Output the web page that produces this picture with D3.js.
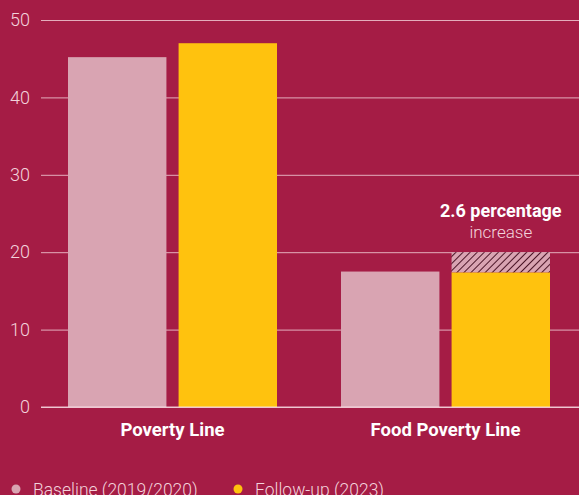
<!DOCTYPE html>
<html>
<head>
<meta charset="utf-8">
<script src="https://cdn.jsdelivr.net/npm/d3@7"></script>
<style>
  html, body { margin: 0; padding: 0; background: #a51c45; }
  svg { display: block; font-family: Roboto, "Noto Sans", sans-serif; }
</style>
</head>
<body>
<svg width="579" height="495"></svg>
<script>
let categories = ["Poverty Line", "Food Poverty Line"];
let seriesNames = ["Baseline (2019/2020)", "Follow-up (2023)"];
let baseline = [45.2, 17.5];
let followUp = [47.0, 20.0];
let increase = [0, 2.6];
let yTicks = [0, 10, 20, 30, 40, 50];
let colors = ["#d9a4b2", "#ffc20e"];

let svg = d3.select("svg");
let margin = { top: 20, right: 0, bottom: 88, left: 41 };
let width = +svg.attr("width") - margin.left - margin.right;
let height = +svg.attr("height") - margin.top - margin.bottom;

let defs = svg.append("defs");
let pat = defs.append("pattern")
    .attr("id", "hatch")
    .attr("patternUnits", "userSpaceOnUse")
    .attr("width", 5).attr("height", 5)
    .attr("patternTransform", "rotate(45)");
pat.append("rect").attr("width", 5).attr("height", 5).attr("fill", "#d9a4b2");
pat.append("line").attr("x1", 0).attr("y1", 0).attr("x2", 0).attr("y2", 5)
    .attr("stroke", "#4a1426").attr("stroke-width", 2);

let g = svg.append("g").attr("transform", `translate(${margin.left},${margin.top})`);

let y = d3.scaleLinear().domain([0, 50]).range([height, 0]);
// groups start at 27 and 300 within the plot, step 273, band 209
let x0 = d3.scaleBand().domain(categories).range([27, 509]).paddingInner(64 / 273).paddingOuter(0);
let x1 = d3.scaleBand().domain([0, 1]).range([0, x0.bandwidth()]).paddingInner(0.11);

// grid + y axis
let yAxis = g.append("g")
    .call(d3.axisLeft(y).tickValues(yTicks).tickSize(-width).tickPadding(11));
yAxis.select(".domain").remove();
yAxis.selectAll(".tick line").attr("stroke", "rgba(255,235,240,0.7)").attr("stroke-width", 1);
yAxis.selectAll(".tick text")
    .attr("fill", "#f3d3dc").attr("font-size", 18).attr("font-weight", 300)
    .attr("font-family", "Roboto, sans-serif");

let groups = g.selectAll(".cat")
    .data(categories)
    .enter().append("g")
    .attr("transform", d => `translate(${x0(d)},0)`);

groups.append("rect")
    .attr("x", x1(0))
    .attr("width", x1.bandwidth())
    .attr("y", (d, i) => y(baseline[i]))
    .attr("height", (d, i) => height - y(baseline[i]))
    .attr("fill", colors[0]);

groups.append("rect")
    .attr("x", x1(1))
    .attr("width", x1.bandwidth())
    .attr("y", (d, i) => y(followUp[i] - increase[i]))
    .attr("height", (d, i) => height - y(followUp[i] - increase[i]))
    .attr("fill", colors[1]);

let withIncrease = groups.filter((d, i) => increase[i] > 0);
withIncrease.append("rect")
    .attr("x", x1(1))
    .attr("width", x1.bandwidth())
    .attr("y", d => y(followUp[categories.indexOf(d)]))
    .attr("height", d => {
        let i = categories.indexOf(d);
        return y(followUp[i] - increase[i]) - y(followUp[i]);
    })
    .attr("fill", "url(#hatch)");

// annotation
let ann = withIncrease.append("text")
    .attr("text-anchor", "middle")
    .attr("fill", "#ffffff");
ann.append("tspan")
    .attr("x", x1(1) + x1.bandwidth() / 2)
    .attr("y", d => y(followUp[categories.indexOf(d)]) - 35)
    .attr("font-weight", 700)
    .attr("font-size", 18)
    .text(d => increase[categories.indexOf(d)] + " percentage");
ann.append("tspan")
    .attr("x", x1(1) + x1.bandwidth() / 2)
    .attr("y", d => y(followUp[categories.indexOf(d)]) - 14)
    .attr("font-weight", 300)
    .attr("font-size", 17)
    .attr("fill", "#f3d3dc")
    .text("increase");

// baseline rule on top of bars
g.append("line")
    .attr("x1", 0).attr("x2", width)
    .attr("y1", y(0)).attr("y2", y(0))
    .attr("stroke", "rgba(255,235,240,0.8)");

// category labels
groups.append("text")
    .attr("x", x0.bandwidth() / 2)
    .attr("y", height + 29)
    .attr("text-anchor", "middle")
    .attr("fill", "#ffffff")
    .attr("font-size", 18.5)
    .attr("font-weight", 700)
    .text(d => d);

// legend
let legend = svg.append("g").attr("transform", "translate(0,489)");
let lx = [16, 238];
seriesNames.forEach((name, i) => {
    legend.append("circle").attr("cx", lx[i]).attr("cy", 0).attr("r", 4.5).attr("fill", colors[i]);
    legend.append("text")
        .attr("x", lx[i] + 17).attr("y", 7)
        .attr("fill", "#f3d3dc")
        .attr("font-size", 17.5).attr("font-weight", 300)
        .text(name);
});
</script>
</body>
</html>
